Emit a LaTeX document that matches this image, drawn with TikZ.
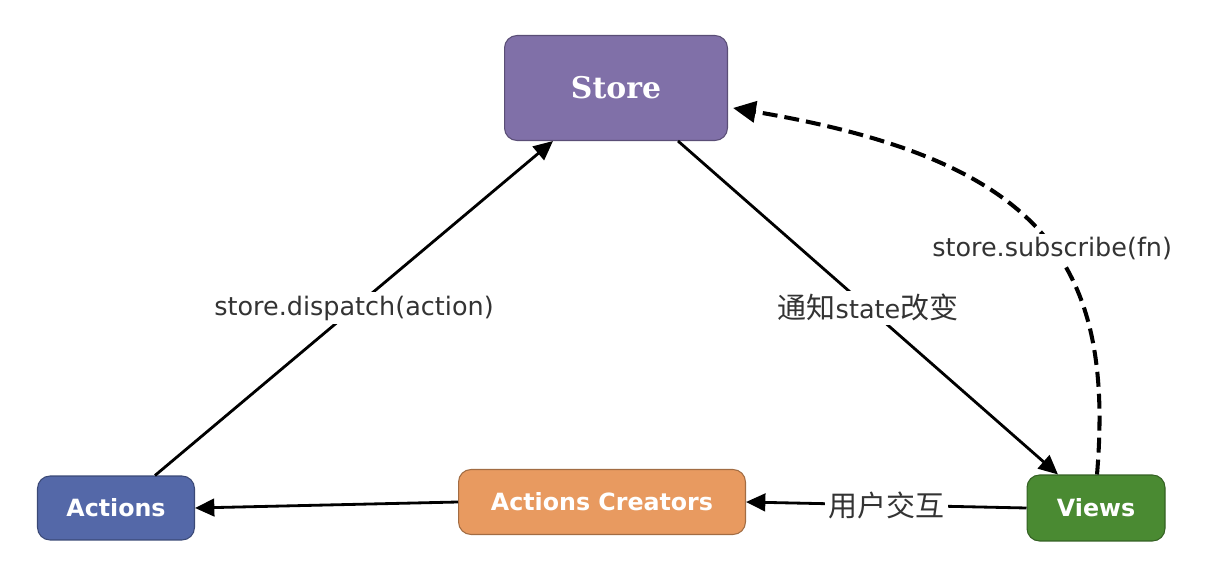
\documentclass[tikz,border=0pt]{standalone}
\usepackage{fontspec}
\setmainfont{DejaVu Sans}
\newfontfamily\storefont{DejaVu Serif}
\newfontfamily\cjk{Noto Sans CJK SC}
\usetikzlibrary{arrows.meta,calc}

\definecolor{storepurple}{HTML}{8070A8}
\definecolor{actblue}{HTML}{5468A8}
\definecolor{creatororange}{HTML}{E89A60}
\definecolor{viewgreen}{HTML}{4A8A32}
\definecolor{labelgray}{HTML}{333333}

\tikzset{
  box/.style={rounded corners=0.25cm, draw=#1!70!black, fill=#1, line width=0.6pt,
    text=white, inner sep=0pt},
  flow/.style={line width=1.6pt, -{Triangle[length=11pt,width=10pt]}},
  lbl/.style={fill=white, text=labelgray, inner sep=2pt, font=\fontsize{14.5}{16}\selectfont}
}
\newcommand{\zh}[1]{{\cjk\fontsize{16.5}{18}\selectfont #1}}

\begin{document}
\begin{tikzpicture}[x=0.02cm,y=-0.02cm]
\useasboundingbox (0,0) rectangle (1230,570);

\node [box=storepurple, minimum width=4.46cm, minimum height=2.1cm,
  font=\storefont\fontsize{17}{20}\selectfont\bfseries] (store) at (616,88) {Store};
\node [box=actblue, minimum width=3.14cm, minimum height=1.28cm,
  font=\fontsize{13.5}{16}\selectfont\bfseries] (act) at (116,508) {Actions};
\node [box=creatororange, minimum width=5.74cm, minimum height=1.3cm,
  font=\fontsize{13.5}{16}\selectfont\bfseries] (creator) at (602,502) {Actions Creators};
\node [box=viewgreen, minimum width=2.76cm, minimum height=1.32cm,
  font=\fontsize{13.5}{16}\selectfont\bfseries] (views) at (1096,508) {Views};

\draw [flow] ($(act.north)+(39,0)$) -- node[lbl] {store.dispatch(action)} ($(store.south)+(-63,0)$);
\draw [flow] ($(store.south)+(62,0)$) -- node[lbl] {\zh{通知}state\zh{改变}} ($(views.north)+(-38,0)$);
\draw [flow, line width=2.3pt, dash pattern=on 8.5pt off 4pt, -{Triangle[length=13pt,width=12pt]}]
  ($(views.north)+(1,0)$) .. controls (1115,260) and (1040,160) .. ($(store.east)+(5,20)$)
  node[pos=0.45, lbl] {store.subscribe(fn)};
\draw [flow] (views.west) -- node[lbl] {\zh{用户交互}} (creator.east);
\draw [flow] (creator.west) -- (act.east);
\end{tikzpicture}
\end{document}
